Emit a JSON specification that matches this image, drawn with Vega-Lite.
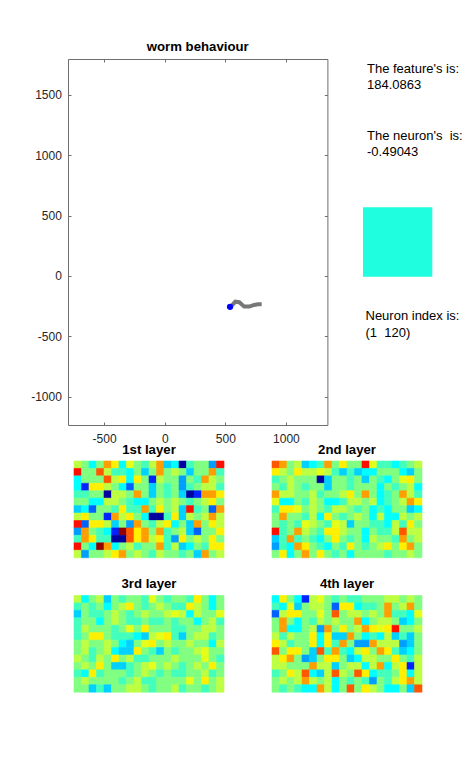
{
  "$schema": "https://vega.github.io/schema/vega-lite/v6.json",
  "background": "white",
  "padding": {"left": 30, "top": 40, "right": 0, "bottom": 0},
  "datasets": {
    "worm": [
      {"i": 1, "x": 557, "y": -242}, {"i": 2, "x": 582, "y": -213}, {"i": 3, "x": 615, "y": -217},
      {"i": 4, "x": 656, "y": -254}, {"i": 5, "x": 697, "y": -254}, {"i": 6, "x": 738, "y": -240},
      {"i": 7, "x": 767, "y": -234}, {"i": 8, "x": 800, "y": -235}
    ],
    "head": [{"x": 539, "y": -256}],
    "neuron": [{"r": 1, "c": 1, "v": 0.405}],
    "l1": [
      {"r":1,"c":1,"v":0.56},{"r":1,"c":2,"v":0.5},{"r":1,"c":3,"v":0.375},{"r":1,"c":4,"v":0.5},{"r":1,"c":5,"v":0.72},{"r":1,"c":6,"v":0.64},{"r":1,"c":7,"v":0.375},{"r":1,"c":8,"v":0.6},{"r":1,"c":9,"v":0.5},{"r":1,"c":10,"v":0.44},{"r":1,"c":11,"v":0.56},{"r":1,"c":12,"v":0.72},{"r":1,"c":13,"v":0.33},{"r":1,"c":14,"v":0.375},{"r":1,"c":15,"v":0.03},{"r":1,"c":16,"v":0.44},{"r":1,"c":17,"v":0.5},{"r":1,"c":18,"v":0.5},{"r":1,"c":19,"v":0.28},{"r":1,"c":20,"v":0.86},
      {"r":2,"c":1,"v":0.86},{"r":2,"c":2,"v":0.5},{"r":2,"c":3,"v":0.5},{"r":2,"c":4,"v":0.79},{"r":2,"c":5,"v":0.56},{"r":2,"c":6,"v":0.44},{"r":2,"c":7,"v":0.44},{"r":2,"c":8,"v":0.375},{"r":2,"c":9,"v":0.5},{"r":2,"c":10,"v":0.33},{"r":2,"c":11,"v":0.5},{"r":2,"c":12,"v":0.72},{"r":2,"c":13,"v":0.5},{"r":2,"c":14,"v":0.56},{"r":2,"c":15,"v":0.5},{"r":2,"c":16,"v":0.33},{"r":2,"c":17,"v":0.5},{"r":2,"c":18,"v":0.5},{"r":2,"c":19,"v":0.72},{"r":2,"c":20,"v":0.44},
      {"r":3,"c":1,"v":0.375},{"r":3,"c":2,"v":0.5},{"r":3,"c":3,"v":0.5},{"r":3,"c":4,"v":0.5},{"r":3,"c":5,"v":0.79},{"r":3,"c":6,"v":0.56},{"r":3,"c":7,"v":0.64},{"r":3,"c":8,"v":0.375},{"r":3,"c":9,"v":0.64},{"r":3,"c":10,"v":0.5},{"r":3,"c":11,"v":0.16},{"r":3,"c":12,"v":0.56},{"r":3,"c":13,"v":0.5},{"r":3,"c":14,"v":0.5},{"r":3,"c":15,"v":0.28},{"r":3,"c":16,"v":0.5},{"r":3,"c":17,"v":0.44},{"r":3,"c":18,"v":0.72},{"r":3,"c":19,"v":0.56},{"r":3,"c":20,"v":0.5},
      {"r":4,"c":1,"v":0.375},{"r":4,"c":2,"v":0.16},{"r":4,"c":3,"v":0.64},{"r":4,"c":4,"v":0.64},{"r":4,"c":5,"v":0.56},{"r":4,"c":6,"v":0.5},{"r":4,"c":7,"v":0.375},{"r":4,"c":8,"v":0.22},{"r":4,"c":9,"v":0.5},{"r":4,"c":10,"v":0.5},{"r":4,"c":11,"v":0.33},{"r":4,"c":12,"v":0.5},{"r":4,"c":13,"v":0.44},{"r":4,"c":14,"v":0.5},{"r":4,"c":15,"v":0.28},{"r":4,"c":16,"v":0.44},{"r":4,"c":17,"v":0.5},{"r":4,"c":18,"v":0.56},{"r":4,"c":19,"v":0.56},{"r":4,"c":20,"v":0.44},
      {"r":5,"c":1,"v":0.44},{"r":5,"c":2,"v":0.44},{"r":5,"c":3,"v":0.5},{"r":5,"c":4,"v":0.5},{"r":5,"c":5,"v":0.03},{"r":5,"c":6,"v":0.56},{"r":5,"c":7,"v":0.56},{"r":5,"c":8,"v":0.5},{"r":5,"c":9,"v":0.72},{"r":5,"c":10,"v":0.5},{"r":5,"c":11,"v":0.33},{"r":5,"c":12,"v":0.5},{"r":5,"c":13,"v":0.44},{"r":5,"c":14,"v":0.5},{"r":5,"c":15,"v":0.33},{"r":5,"c":16,"v":0.03},{"r":5,"c":17,"v":0.16},{"r":5,"c":18,"v":0.72},{"r":5,"c":19,"v":0.72},{"r":5,"c":20,"v":0.64},
      {"r":6,"c":1,"v":0.5},{"r":6,"c":2,"v":0.5},{"r":6,"c":3,"v":0.375},{"r":6,"c":4,"v":0.375},{"r":6,"c":5,"v":0.56},{"r":6,"c":6,"v":0.56},{"r":6,"c":7,"v":0.5},{"r":6,"c":8,"v":0.44},{"r":6,"c":9,"v":0.375},{"r":6,"c":10,"v":0.375},{"r":6,"c":11,"v":0.5},{"r":6,"c":12,"v":0.56},{"r":6,"c":13,"v":0.5},{"r":6,"c":14,"v":0.56},{"r":6,"c":15,"v":0.5},{"r":6,"c":16,"v":0.44},{"r":6,"c":17,"v":0.5},{"r":6,"c":18,"v":0.56},{"r":6,"c":19,"v":0.64},{"r":6,"c":20,"v":0.5},
      {"r":7,"c":1,"v":0.33},{"r":7,"c":2,"v":0.375},{"r":7,"c":3,"v":0.22},{"r":7,"c":4,"v":0.5},{"r":7,"c":5,"v":0.5},{"r":7,"c":6,"v":0.44},{"r":7,"c":7,"v":0.64},{"r":7,"c":8,"v":0.44},{"r":7,"c":9,"v":0.44},{"r":7,"c":10,"v":0.72},{"r":7,"c":11,"v":0.44},{"r":7,"c":12,"v":0.64},{"r":7,"c":13,"v":0.5},{"r":7,"c":14,"v":0.56},{"r":7,"c":15,"v":0.33},{"r":7,"c":16,"v":0.86},{"r":7,"c":17,"v":0.44},{"r":7,"c":18,"v":0.5},{"r":7,"c":19,"v":0.22},{"r":7,"c":20,"v":0.72},
      {"r":8,"c":1,"v":0.56},{"r":8,"c":2,"v":0.64},{"r":8,"c":3,"v":0.5},{"r":8,"c":4,"v":0.5},{"r":8,"c":5,"v":0.16},{"r":8,"c":6,"v":0.72},{"r":8,"c":7,"v":0.56},{"r":8,"c":8,"v":0.64},{"r":8,"c":9,"v":0.5},{"r":8,"c":10,"v":0.375},{"r":8,"c":11,"v":0.03},{"r":8,"c":12,"v":0.03},{"r":8,"c":13,"v":0.44},{"r":8,"c":14,"v":0.64},{"r":8,"c":15,"v":0.33},{"r":8,"c":16,"v":0.56},{"r":8,"c":17,"v":0.5},{"r":8,"c":18,"v":0.56},{"r":8,"c":19,"v":0.72},{"r":8,"c":20,"v":0.56},
      {"r":9,"c":1,"v":0.86},{"r":9,"c":2,"v":0.22},{"r":9,"c":3,"v":0.64},{"r":9,"c":4,"v":0.64},{"r":9,"c":5,"v":0.56},{"r":9,"c":6,"v":0.33},{"r":9,"c":7,"v":0.5},{"r":9,"c":8,"v":0.28},{"r":9,"c":9,"v":0.72},{"r":9,"c":10,"v":0.5},{"r":9,"c":11,"v":0.44},{"r":9,"c":12,"v":0.56},{"r":9,"c":13,"v":0.64},{"r":9,"c":14,"v":0.375},{"r":9,"c":15,"v":0.5},{"r":9,"c":16,"v":0.33},{"r":9,"c":17,"v":0.72},{"r":9,"c":18,"v":0.5},{"r":9,"c":19,"v":0.64},{"r":9,"c":20,"v":0.56},
      {"r":10,"c":1,"v":0.28},{"r":10,"c":2,"v":0.72},{"r":10,"c":3,"v":0.5},{"r":10,"c":4,"v":0.44},{"r":10,"c":5,"v":0.375},{"r":10,"c":6,"v":0.16},{"r":10,"c":7,"v":0.98},{"r":10,"c":8,"v":0.79},{"r":10,"c":9,"v":0.64},{"r":10,"c":10,"v":0.72},{"r":10,"c":11,"v":0.5},{"r":10,"c":12,"v":0.72},{"r":10,"c":13,"v":0.44},{"r":10,"c":14,"v":0.5},{"r":10,"c":15,"v":0.56},{"r":10,"c":16,"v":0.33},{"r":10,"c":17,"v":0.22},{"r":10,"c":18,"v":0.5},{"r":10,"c":19,"v":0.5},{"r":10,"c":20,"v":0.64},
      {"r":11,"c":1,"v":0.44},{"r":11,"c":2,"v":0.72},{"r":11,"c":3,"v":0.64},{"r":11,"c":4,"v":0.44},{"r":11,"c":5,"v":0.44},{"r":11,"c":6,"v":0.03},{"r":11,"c":7,"v":0.03},{"r":11,"c":8,"v":0.79},{"r":11,"c":9,"v":0.64},{"r":11,"c":10,"v":0.72},{"r":11,"c":11,"v":0.56},{"r":11,"c":12,"v":0.64},{"r":11,"c":13,"v":0.44},{"r":11,"c":14,"v":0.28},{"r":11,"c":15,"v":0.64},{"r":11,"c":16,"v":0.5},{"r":11,"c":17,"v":0.56},{"r":11,"c":18,"v":0.5},{"r":11,"c":19,"v":0.64},{"r":11,"c":20,"v":0.5},
      {"r":12,"c":1,"v":0.86},{"r":12,"c":2,"v":0.5},{"r":12,"c":3,"v":0.375},{"r":12,"c":4,"v":0.98},{"r":12,"c":5,"v":0.72},{"r":12,"c":6,"v":0.375},{"r":12,"c":7,"v":0.5},{"r":12,"c":8,"v":0.56},{"r":12,"c":9,"v":0.44},{"r":12,"c":10,"v":0.5},{"r":12,"c":11,"v":0.5},{"r":12,"c":12,"v":0.72},{"r":12,"c":13,"v":0.44},{"r":12,"c":14,"v":0.56},{"r":12,"c":15,"v":0.33},{"r":12,"c":16,"v":0.375},{"r":12,"c":17,"v":0.5},{"r":12,"c":18,"v":0.44},{"r":12,"c":19,"v":0.64},{"r":12,"c":20,"v":0.64},
      {"r":13,"c":1,"v":0.56},{"r":13,"c":2,"v":0.28},{"r":13,"c":3,"v":0.5},{"r":13,"c":4,"v":0.5},{"r":13,"c":5,"v":0.56},{"r":13,"c":6,"v":0.64},{"r":13,"c":7,"v":0.72},{"r":13,"c":8,"v":0.5},{"r":13,"c":9,"v":0.56},{"r":13,"c":10,"v":0.5},{"r":13,"c":11,"v":0.44},{"r":13,"c":12,"v":0.56},{"r":13,"c":13,"v":0.5},{"r":13,"c":14,"v":0.5},{"r":13,"c":15,"v":0.44},{"r":13,"c":16,"v":0.5},{"r":13,"c":17,"v":0.33},{"r":13,"c":18,"v":0.72},{"r":13,"c":19,"v":0.5},{"r":13,"c":20,"v":0.56}
    ],
    "l2": [
      {"r":1,"c":1,"v":0.79},{"r":1,"c":2,"v":0.72},{"r":1,"c":3,"v":0.5},{"r":1,"c":4,"v":0.56},{"r":1,"c":5,"v":0.33},{"r":1,"c":6,"v":0.375},{"r":1,"c":7,"v":0.44},{"r":1,"c":8,"v":0.72},{"r":1,"c":9,"v":0.5},{"r":1,"c":10,"v":0.64},{"r":1,"c":11,"v":0.5},{"r":1,"c":12,"v":0.5},{"r":1,"c":13,"v":0.86},{"r":1,"c":14,"v":0.6},{"r":1,"c":15,"v":0.44},{"r":1,"c":16,"v":0.44},{"r":1,"c":17,"v":0.375},{"r":1,"c":18,"v":0.44},{"r":1,"c":19,"v":0.5},{"r":1,"c":20,"v":0.56},
      {"r":2,"c":1,"v":0.64},{"r":2,"c":2,"v":0.56},{"r":2,"c":3,"v":0.5},{"r":2,"c":4,"v":0.64},{"r":2,"c":5,"v":0.56},{"r":2,"c":6,"v":0.56},{"r":2,"c":7,"v":0.6},{"r":2,"c":8,"v":0.56},{"r":2,"c":9,"v":0.44},{"r":2,"c":10,"v":0.33},{"r":2,"c":11,"v":0.44},{"r":2,"c":12,"v":0.33},{"r":2,"c":13,"v":0.375},{"r":2,"c":14,"v":0.375},{"r":2,"c":15,"v":0.5},{"r":2,"c":16,"v":0.5},{"r":2,"c":17,"v":0.5},{"r":2,"c":18,"v":0.375},{"r":2,"c":19,"v":0.33},{"r":2,"c":20,"v":0.5},
      {"r":3,"c":1,"v":0.44},{"r":3,"c":2,"v":0.5},{"r":3,"c":3,"v":0.56},{"r":3,"c":4,"v":0.5},{"r":3,"c":5,"v":0.5},{"r":3,"c":6,"v":0.5},{"r":3,"c":7,"v":0.03},{"r":3,"c":8,"v":0.33},{"r":3,"c":9,"v":0.5},{"r":3,"c":10,"v":0.5},{"r":3,"c":11,"v":0.44},{"r":3,"c":12,"v":0.5},{"r":3,"c":13,"v":0.33},{"r":3,"c":14,"v":0.5},{"r":3,"c":15,"v":0.44},{"r":3,"c":16,"v":0.375},{"r":3,"c":17,"v":0.5},{"r":3,"c":18,"v":0.6},{"r":3,"c":19,"v":0.64},{"r":3,"c":20,"v":0.5},
      {"r":4,"c":1,"v":0.5},{"r":4,"c":2,"v":0.44},{"r":4,"c":3,"v":0.56},{"r":4,"c":4,"v":0.5},{"r":4,"c":5,"v":0.44},{"r":4,"c":6,"v":0.5},{"r":4,"c":7,"v":0.5},{"r":4,"c":8,"v":0.33},{"r":4,"c":9,"v":0.5},{"r":4,"c":10,"v":0.5},{"r":4,"c":11,"v":0.44},{"r":4,"c":12,"v":0.5},{"r":4,"c":13,"v":0.5},{"r":4,"c":14,"v":0.5},{"r":4,"c":15,"v":0.375},{"r":4,"c":16,"v":0.5},{"r":4,"c":17,"v":0.44},{"r":4,"c":18,"v":0.5},{"r":4,"c":19,"v":0.56},{"r":4,"c":20,"v":0.375},
      {"r":5,"c":1,"v":0.72},{"r":5,"c":2,"v":0.56},{"r":5,"c":3,"v":0.56},{"r":5,"c":4,"v":0.5},{"r":5,"c":5,"v":0.5},{"r":5,"c":6,"v":0.56},{"r":5,"c":7,"v":0.44},{"r":5,"c":8,"v":0.5},{"r":5,"c":9,"v":0.5},{"r":5,"c":10,"v":0.56},{"r":5,"c":11,"v":0.64},{"r":5,"c":12,"v":0.5},{"r":5,"c":13,"v":0.72},{"r":5,"c":14,"v":0.5},{"r":5,"c":15,"v":0.375},{"r":5,"c":16,"v":0.44},{"r":5,"c":17,"v":0.5},{"r":5,"c":18,"v":0.72},{"r":5,"c":19,"v":0.56},{"r":5,"c":20,"v":0.44},
      {"r":6,"c":1,"v":0.6},{"r":6,"c":2,"v":0.375},{"r":6,"c":3,"v":0.375},{"r":6,"c":4,"v":0.5},{"r":6,"c":5,"v":0.44},{"r":6,"c":6,"v":0.56},{"r":6,"c":7,"v":0.5},{"r":6,"c":8,"v":0.375},{"r":6,"c":9,"v":0.375},{"r":6,"c":10,"v":0.44},{"r":6,"c":11,"v":0.56},{"r":6,"c":12,"v":0.56},{"r":6,"c":13,"v":0.5},{"r":6,"c":14,"v":0.56},{"r":6,"c":15,"v":0.375},{"r":6,"c":16,"v":0.44},{"r":6,"c":17,"v":0.5},{"r":6,"c":18,"v":0.56},{"r":6,"c":19,"v":0.72},{"r":6,"c":20,"v":0.64},
      {"r":7,"c":1,"v":0.44},{"r":7,"c":2,"v":0.64},{"r":7,"c":3,"v":0.64},{"r":7,"c":4,"v":0.6},{"r":7,"c":5,"v":0.5},{"r":7,"c":6,"v":0.56},{"r":7,"c":7,"v":0.5},{"r":7,"c":8,"v":0.44},{"r":7,"c":9,"v":0.56},{"r":7,"c":10,"v":0.56},{"r":7,"c":11,"v":0.5},{"r":7,"c":12,"v":0.44},{"r":7,"c":13,"v":0.5},{"r":7,"c":14,"v":0.375},{"r":7,"c":15,"v":0.44},{"r":7,"c":16,"v":0.375},{"r":7,"c":17,"v":0.5},{"r":7,"c":18,"v":0.5},{"r":7,"c":19,"v":0.33},{"r":7,"c":20,"v":0.375},
      {"r":8,"c":1,"v":0.5},{"r":8,"c":2,"v":0.72},{"r":8,"c":3,"v":0.5},{"r":8,"c":4,"v":0.5},{"r":8,"c":5,"v":0.44},{"r":8,"c":6,"v":0.56},{"r":8,"c":7,"v":0.375},{"r":8,"c":8,"v":0.64},{"r":8,"c":9,"v":0.5},{"r":8,"c":10,"v":0.44},{"r":8,"c":11,"v":0.5},{"r":8,"c":12,"v":0.56},{"r":8,"c":13,"v":0.5},{"r":8,"c":14,"v":0.375},{"r":8,"c":15,"v":0.56},{"r":8,"c":16,"v":0.375},{"r":8,"c":17,"v":0.375},{"r":8,"c":18,"v":0.56},{"r":8,"c":19,"v":0.5},{"r":8,"c":20,"v":0.56},
      {"r":9,"c":1,"v":0.5},{"r":9,"c":2,"v":0.44},{"r":9,"c":3,"v":0.5},{"r":9,"c":4,"v":0.44},{"r":9,"c":5,"v":0.6},{"r":9,"c":6,"v":0.56},{"r":9,"c":7,"v":0.5},{"r":9,"c":8,"v":0.44},{"r":9,"c":9,"v":0.6},{"r":9,"c":10,"v":0.56},{"r":9,"c":11,"v":0.33},{"r":9,"c":12,"v":0.5},{"r":9,"c":13,"v":0.5},{"r":9,"c":14,"v":0.44},{"r":9,"c":15,"v":0.44},{"r":9,"c":16,"v":0.375},{"r":9,"c":17,"v":0.56},{"r":9,"c":18,"v":0.44},{"r":9,"c":19,"v":0.64},{"r":9,"c":20,"v":0.5},
      {"r":10,"c":1,"v":0.86},{"r":10,"c":2,"v":0.44},{"r":10,"c":3,"v":0.5},{"r":10,"c":4,"v":0.72},{"r":10,"c":5,"v":0.56},{"r":10,"c":6,"v":0.5},{"r":10,"c":7,"v":0.44},{"r":10,"c":8,"v":0.64},{"r":10,"c":9,"v":0.64},{"r":10,"c":10,"v":0.56},{"r":10,"c":11,"v":0.5},{"r":10,"c":12,"v":0.5},{"r":10,"c":13,"v":0.375},{"r":10,"c":14,"v":0.5},{"r":10,"c":15,"v":0.44},{"r":10,"c":16,"v":0.44},{"r":10,"c":17,"v":0.56},{"r":10,"c":18,"v":0.79},{"r":10,"c":19,"v":0.56},{"r":10,"c":20,"v":0.56},
      {"r":11,"c":1,"v":0.33},{"r":11,"c":2,"v":0.44},{"r":11,"c":3,"v":0.72},{"r":11,"c":4,"v":0.44},{"r":11,"c":5,"v":0.5},{"r":11,"c":6,"v":0.44},{"r":11,"c":7,"v":0.375},{"r":11,"c":8,"v":0.5},{"r":11,"c":9,"v":0.64},{"r":11,"c":10,"v":0.5},{"r":11,"c":11,"v":0.44},{"r":11,"c":12,"v":0.5},{"r":11,"c":13,"v":0.375},{"r":11,"c":14,"v":0.56},{"r":11,"c":15,"v":0.5},{"r":11,"c":16,"v":0.5},{"r":11,"c":17,"v":0.44},{"r":11,"c":18,"v":0.72},{"r":11,"c":19,"v":0.5},{"r":11,"c":20,"v":0.56},
      {"r":12,"c":1,"v":0.28},{"r":12,"c":2,"v":0.44},{"r":12,"c":3,"v":0.375},{"r":12,"c":4,"v":0.72},{"r":12,"c":5,"v":0.64},{"r":12,"c":6,"v":0.5},{"r":12,"c":7,"v":0.44},{"r":12,"c":8,"v":0.375},{"r":12,"c":9,"v":0.5},{"r":12,"c":10,"v":0.44},{"r":12,"c":11,"v":0.64},{"r":12,"c":12,"v":0.5},{"r":12,"c":13,"v":0.44},{"r":12,"c":14,"v":0.5},{"r":12,"c":15,"v":0.56},{"r":12,"c":16,"v":0.64},{"r":12,"c":17,"v":0.5},{"r":12,"c":18,"v":0.64},{"r":12,"c":19,"v":0.72},{"r":12,"c":20,"v":0.5},
      {"r":13,"c":1,"v":0.5},{"r":13,"c":2,"v":0.64},{"r":13,"c":3,"v":0.375},{"r":13,"c":4,"v":0.5},{"r":13,"c":5,"v":0.72},{"r":13,"c":6,"v":0.5},{"r":13,"c":7,"v":0.64},{"r":13,"c":8,"v":0.5},{"r":13,"c":9,"v":0.44},{"r":13,"c":10,"v":0.5},{"r":13,"c":11,"v":0.375},{"r":13,"c":12,"v":0.5},{"r":13,"c":13,"v":0.5},{"r":13,"c":14,"v":0.5},{"r":13,"c":15,"v":0.5},{"r":13,"c":16,"v":0.44},{"r":13,"c":17,"v":0.5},{"r":13,"c":18,"v":0.5},{"r":13,"c":19,"v":0.56},{"r":13,"c":20,"v":0.5}
    ],
    "l3": [
      {"r":1,"c":1,"v":0.56},{"r":1,"c":2,"v":0.375},{"r":1,"c":3,"v":0.5},{"r":1,"c":4,"v":0.56},{"r":1,"c":5,"v":0.33},{"r":1,"c":6,"v":0.5},{"r":1,"c":7,"v":0.44},{"r":1,"c":8,"v":0.5},{"r":1,"c":9,"v":0.5},{"r":1,"c":10,"v":0.44},{"r":1,"c":11,"v":0.6},{"r":1,"c":12,"v":0.5},{"r":1,"c":13,"v":0.44},{"r":1,"c":14,"v":0.5},{"r":1,"c":15,"v":0.5},{"r":1,"c":16,"v":0.44},{"r":1,"c":17,"v":0.64},{"r":1,"c":18,"v":0.5},{"r":1,"c":19,"v":0.375},{"r":1,"c":20,"v":0.5},
      {"r":2,"c":1,"v":0.44},{"r":2,"c":2,"v":0.5},{"r":2,"c":3,"v":0.44},{"r":2,"c":4,"v":0.5},{"r":2,"c":5,"v":0.375},{"r":2,"c":6,"v":0.5},{"r":2,"c":7,"v":0.56},{"r":2,"c":8,"v":0.64},{"r":2,"c":9,"v":0.5},{"r":2,"c":10,"v":0.44},{"r":2,"c":11,"v":0.5},{"r":2,"c":12,"v":0.56},{"r":2,"c":13,"v":0.5},{"r":2,"c":14,"v":0.44},{"r":2,"c":15,"v":0.44},{"r":2,"c":16,"v":0.64},{"r":2,"c":17,"v":0.56},{"r":2,"c":18,"v":0.5},{"r":2,"c":19,"v":0.375},{"r":2,"c":20,"v":0.5},
      {"r":3,"c":1,"v":0.33},{"r":3,"c":2,"v":0.5},{"r":3,"c":3,"v":0.44},{"r":3,"c":4,"v":0.44},{"r":3,"c":5,"v":0.5},{"r":3,"c":6,"v":0.56},{"r":3,"c":7,"v":0.5},{"r":3,"c":8,"v":0.44},{"r":3,"c":9,"v":0.5},{"r":3,"c":10,"v":0.56},{"r":3,"c":11,"v":0.5},{"r":3,"c":12,"v":0.5},{"r":3,"c":13,"v":0.56},{"r":3,"c":14,"v":0.6},{"r":3,"c":15,"v":0.56},{"r":3,"c":16,"v":0.375},{"r":3,"c":17,"v":0.56},{"r":3,"c":18,"v":0.5},{"r":3,"c":19,"v":0.5},{"r":3,"c":20,"v":0.6},
      {"r":4,"c":1,"v":0.44},{"r":4,"c":2,"v":0.5},{"r":4,"c":3,"v":0.5},{"r":4,"c":4,"v":0.375},{"r":4,"c":5,"v":0.5},{"r":4,"c":6,"v":0.56},{"r":4,"c":7,"v":0.5},{"r":4,"c":8,"v":0.44},{"r":4,"c":9,"v":0.44},{"r":4,"c":10,"v":0.5},{"r":4,"c":11,"v":0.44},{"r":4,"c":12,"v":0.44},{"r":4,"c":13,"v":0.5},{"r":4,"c":14,"v":0.44},{"r":4,"c":15,"v":0.5},{"r":4,"c":16,"v":0.5},{"r":4,"c":17,"v":0.375},{"r":4,"c":18,"v":0.5},{"r":4,"c":19,"v":0.56},{"r":4,"c":20,"v":0.44},
      {"r":5,"c":1,"v":0.44},{"r":5,"c":2,"v":0.56},{"r":5,"c":3,"v":0.5},{"r":5,"c":4,"v":0.5},{"r":5,"c":5,"v":0.5},{"r":5,"c":6,"v":0.44},{"r":5,"c":7,"v":0.5},{"r":5,"c":8,"v":0.6},{"r":5,"c":9,"v":0.5},{"r":5,"c":10,"v":0.64},{"r":5,"c":11,"v":0.5},{"r":5,"c":12,"v":0.5},{"r":5,"c":13,"v":0.5},{"r":5,"c":14,"v":0.44},{"r":5,"c":15,"v":0.44},{"r":5,"c":16,"v":0.5},{"r":5,"c":17,"v":0.5},{"r":5,"c":18,"v":0.56},{"r":5,"c":19,"v":0.56},{"r":5,"c":20,"v":0.5},
      {"r":6,"c":1,"v":0.44},{"r":6,"c":2,"v":0.5},{"r":6,"c":3,"v":0.64},{"r":6,"c":4,"v":0.64},{"r":6,"c":5,"v":0.5},{"r":6,"c":6,"v":0.44},{"r":6,"c":7,"v":0.44},{"r":6,"c":8,"v":0.44},{"r":6,"c":9,"v":0.375},{"r":6,"c":10,"v":0.33},{"r":6,"c":11,"v":0.56},{"r":6,"c":12,"v":0.6},{"r":6,"c":13,"v":0.64},{"r":6,"c":14,"v":0.44},{"r":6,"c":15,"v":0.33},{"r":6,"c":16,"v":0.5},{"r":6,"c":17,"v":0.56},{"r":6,"c":18,"v":0.56},{"r":6,"c":19,"v":0.44},{"r":6,"c":20,"v":0.5},
      {"r":7,"c":1,"v":0.5},{"r":7,"c":2,"v":0.56},{"r":7,"c":3,"v":0.5},{"r":7,"c":4,"v":0.5},{"r":7,"c":5,"v":0.56},{"r":7,"c":6,"v":0.5},{"r":7,"c":7,"v":0.375},{"r":7,"c":8,"v":0.33},{"r":7,"c":9,"v":0.5},{"r":7,"c":10,"v":0.6},{"r":7,"c":11,"v":0.64},{"r":7,"c":12,"v":0.5},{"r":7,"c":13,"v":0.56},{"r":7,"c":14,"v":0.5},{"r":7,"c":15,"v":0.5},{"r":7,"c":16,"v":0.56},{"r":7,"c":17,"v":0.5},{"r":7,"c":18,"v":0.5},{"r":7,"c":19,"v":0.375},{"r":7,"c":20,"v":0.56},
      {"r":8,"c":1,"v":0.5},{"r":8,"c":2,"v":0.56},{"r":8,"c":3,"v":0.44},{"r":8,"c":4,"v":0.5},{"r":8,"c":5,"v":0.56},{"r":8,"c":6,"v":0.375},{"r":8,"c":7,"v":0.33},{"r":8,"c":8,"v":0.33},{"r":8,"c":9,"v":0.64},{"r":8,"c":10,"v":0.5},{"r":8,"c":11,"v":0.44},{"r":8,"c":12,"v":0.33},{"r":8,"c":13,"v":0.5},{"r":8,"c":14,"v":0.44},{"r":8,"c":15,"v":0.5},{"r":8,"c":16,"v":0.5},{"r":8,"c":17,"v":0.56},{"r":8,"c":18,"v":0.6},{"r":8,"c":19,"v":0.5},{"r":8,"c":20,"v":0.5},
      {"r":9,"c":1,"v":0.56},{"r":9,"c":2,"v":0.5},{"r":9,"c":3,"v":0.44},{"r":9,"c":4,"v":0.56},{"r":9,"c":5,"v":0.5},{"r":9,"c":6,"v":0.64},{"r":9,"c":7,"v":0.5},{"r":9,"c":8,"v":0.56},{"r":9,"c":9,"v":0.44},{"r":9,"c":10,"v":0.44},{"r":9,"c":11,"v":0.5},{"r":9,"c":12,"v":0.5},{"r":9,"c":13,"v":0.5},{"r":9,"c":14,"v":0.56},{"r":9,"c":15,"v":0.5},{"r":9,"c":16,"v":0.5},{"r":9,"c":17,"v":0.5},{"r":9,"c":18,"v":0.6},{"r":9,"c":19,"v":0.5},{"r":9,"c":20,"v":0.44},
      {"r":10,"c":1,"v":0.5},{"r":10,"c":2,"v":0.56},{"r":10,"c":3,"v":0.5},{"r":10,"c":4,"v":0.64},{"r":10,"c":5,"v":0.5},{"r":10,"c":6,"v":0.33},{"r":10,"c":7,"v":0.33},{"r":10,"c":8,"v":0.44},{"r":10,"c":9,"v":0.5},{"r":10,"c":10,"v":0.56},{"r":10,"c":11,"v":0.6},{"r":10,"c":12,"v":0.5},{"r":10,"c":13,"v":0.56},{"r":10,"c":14,"v":0.5},{"r":10,"c":15,"v":0.44},{"r":10,"c":16,"v":0.5},{"r":10,"c":17,"v":0.56},{"r":10,"c":18,"v":0.5},{"r":10,"c":19,"v":0.64},{"r":10,"c":20,"v":0.5},
      {"r":11,"c":1,"v":0.44},{"r":11,"c":2,"v":0.375},{"r":11,"c":3,"v":0.64},{"r":11,"c":4,"v":0.44},{"r":11,"c":5,"v":0.5},{"r":11,"c":6,"v":0.5},{"r":11,"c":7,"v":0.5},{"r":11,"c":8,"v":0.44},{"r":11,"c":9,"v":0.5},{"r":11,"c":10,"v":0.56},{"r":11,"c":11,"v":0.5},{"r":11,"c":12,"v":0.44},{"r":11,"c":13,"v":0.5},{"r":11,"c":14,"v":0.44},{"r":11,"c":15,"v":0.44},{"r":11,"c":16,"v":0.5},{"r":11,"c":17,"v":0.5},{"r":11,"c":18,"v":0.56},{"r":11,"c":19,"v":0.44},{"r":11,"c":20,"v":0.5},
      {"r":12,"c":1,"v":0.5},{"r":12,"c":2,"v":0.56},{"r":12,"c":3,"v":0.5},{"r":12,"c":4,"v":0.5},{"r":12,"c":5,"v":0.5},{"r":12,"c":6,"v":0.5},{"r":12,"c":7,"v":0.44},{"r":12,"c":8,"v":0.5},{"r":12,"c":9,"v":0.56},{"r":12,"c":10,"v":0.44},{"r":12,"c":11,"v":0.44},{"r":12,"c":12,"v":0.5},{"r":12,"c":13,"v":0.5},{"r":12,"c":14,"v":0.5},{"r":12,"c":15,"v":0.5},{"r":12,"c":16,"v":0.6},{"r":12,"c":17,"v":0.5},{"r":12,"c":18,"v":0.64},{"r":12,"c":19,"v":0.5},{"r":12,"c":20,"v":0.56},
      {"r":13,"c":1,"v":0.5},{"r":13,"c":2,"v":0.5},{"r":13,"c":3,"v":0.33},{"r":13,"c":4,"v":0.44},{"r":13,"c":5,"v":0.33},{"r":13,"c":6,"v":0.5},{"r":13,"c":7,"v":0.5},{"r":13,"c":8,"v":0.56},{"r":13,"c":9,"v":0.56},{"r":13,"c":10,"v":0.5},{"r":13,"c":11,"v":0.44},{"r":13,"c":12,"v":0.5},{"r":13,"c":13,"v":0.5},{"r":13,"c":14,"v":0.56},{"r":13,"c":15,"v":0.44},{"r":13,"c":16,"v":0.5},{"r":13,"c":17,"v":0.5},{"r":13,"c":18,"v":0.44},{"r":13,"c":19,"v":0.5},{"r":13,"c":20,"v":0.56}
    ],
    "l4": [
      {"r":1,"c":1,"v":0.375},{"r":1,"c":2,"v":0.64},{"r":1,"c":3,"v":0.5},{"r":1,"c":4,"v":0.375},{"r":1,"c":5,"v":0.16},{"r":1,"c":6,"v":0.56},{"r":1,"c":7,"v":0.6},{"r":1,"c":8,"v":0.5},{"r":1,"c":9,"v":0.44},{"r":1,"c":10,"v":0.5},{"r":1,"c":11,"v":0.44},{"r":1,"c":12,"v":0.44},{"r":1,"c":13,"v":0.5},{"r":1,"c":14,"v":0.5},{"r":1,"c":15,"v":0.5},{"r":1,"c":16,"v":0.56},{"r":1,"c":17,"v":0.56},{"r":1,"c":18,"v":0.5},{"r":1,"c":19,"v":0.56},{"r":1,"c":20,"v":0.5},
      {"r":2,"c":1,"v":0.44},{"r":2,"c":2,"v":0.375},{"r":2,"c":3,"v":0.6},{"r":2,"c":4,"v":0.33},{"r":2,"c":5,"v":0.5},{"r":2,"c":6,"v":0.56},{"r":2,"c":7,"v":0.56},{"r":2,"c":8,"v":0.5},{"r":2,"c":9,"v":0.22},{"r":2,"c":10,"v":0.64},{"r":2,"c":11,"v":0.64},{"r":2,"c":12,"v":0.375},{"r":2,"c":13,"v":0.44},{"r":2,"c":14,"v":0.44},{"r":2,"c":15,"v":0.5},{"r":2,"c":16,"v":0.72},{"r":2,"c":17,"v":0.5},{"r":2,"c":18,"v":0.56},{"r":2,"c":19,"v":0.72},{"r":2,"c":20,"v":0.5},
      {"r":3,"c":1,"v":0.22},{"r":3,"c":2,"v":0.56},{"r":3,"c":3,"v":0.64},{"r":3,"c":4,"v":0.64},{"r":3,"c":5,"v":0.5},{"r":3,"c":6,"v":0.5},{"r":3,"c":7,"v":0.6},{"r":3,"c":8,"v":0.5},{"r":3,"c":9,"v":0.79},{"r":3,"c":10,"v":0.5},{"r":3,"c":11,"v":0.56},{"r":3,"c":12,"v":0.56},{"r":3,"c":13,"v":0.5},{"r":3,"c":14,"v":0.56},{"r":3,"c":15,"v":0.5},{"r":3,"c":16,"v":0.72},{"r":3,"c":17,"v":0.44},{"r":3,"c":18,"v":0.44},{"r":3,"c":19,"v":0.375},{"r":3,"c":20,"v":0.6},
      {"r":4,"c":1,"v":0.5},{"r":4,"c":2,"v":0.72},{"r":4,"c":3,"v":0.5},{"r":4,"c":4,"v":0.375},{"r":4,"c":5,"v":0.5},{"r":4,"c":6,"v":0.44},{"r":4,"c":7,"v":0.56},{"r":4,"c":8,"v":0.5},{"r":4,"c":9,"v":0.56},{"r":4,"c":10,"v":0.5},{"r":4,"c":11,"v":0.5},{"r":4,"c":12,"v":0.72},{"r":4,"c":13,"v":0.375},{"r":4,"c":14,"v":0.5},{"r":4,"c":15,"v":0.56},{"r":4,"c":16,"v":0.56},{"r":4,"c":17,"v":0.5},{"r":4,"c":18,"v":0.33},{"r":4,"c":19,"v":0.375},{"r":4,"c":20,"v":0.5},
      {"r":5,"c":1,"v":0.5},{"r":5,"c":2,"v":0.72},{"r":5,"c":3,"v":0.375},{"r":5,"c":4,"v":0.375},{"r":5,"c":5,"v":0.5},{"r":5,"c":6,"v":0.56},{"r":5,"c":7,"v":0.28},{"r":5,"c":8,"v":0.72},{"r":5,"c":9,"v":0.5},{"r":5,"c":10,"v":0.64},{"r":5,"c":11,"v":0.5},{"r":5,"c":12,"v":0.56},{"r":5,"c":13,"v":0.72},{"r":5,"c":14,"v":0.64},{"r":5,"c":15,"v":0.6},{"r":5,"c":16,"v":0.64},{"r":5,"c":17,"v":0.86},{"r":5,"c":18,"v":0.5},{"r":5,"c":19,"v":0.5},{"r":5,"c":20,"v":0.56},
      {"r":6,"c":1,"v":0.56},{"r":6,"c":2,"v":0.44},{"r":6,"c":3,"v":0.56},{"r":6,"c":4,"v":0.5},{"r":6,"c":5,"v":0.5},{"r":6,"c":6,"v":0.64},{"r":6,"c":7,"v":0.375},{"r":6,"c":8,"v":0.64},{"r":6,"c":9,"v":0.33},{"r":6,"c":10,"v":0.33},{"r":6,"c":11,"v":0.72},{"r":6,"c":12,"v":0.5},{"r":6,"c":13,"v":0.375},{"r":6,"c":14,"v":0.44},{"r":6,"c":15,"v":0.375},{"r":6,"c":16,"v":0.56},{"r":6,"c":17,"v":0.33},{"r":6,"c":18,"v":0.44},{"r":6,"c":19,"v":0.33},{"r":6,"c":20,"v":0.5},
      {"r":7,"c":1,"v":0.64},{"r":7,"c":2,"v":0.56},{"r":7,"c":3,"v":0.44},{"r":7,"c":4,"v":0.5},{"r":7,"c":5,"v":0.5},{"r":7,"c":6,"v":0.64},{"r":7,"c":7,"v":0.375},{"r":7,"c":8,"v":0.64},{"r":7,"c":9,"v":0.44},{"r":7,"c":10,"v":0.72},{"r":7,"c":11,"v":0.5},{"r":7,"c":12,"v":0.28},{"r":7,"c":13,"v":0.28},{"r":7,"c":14,"v":0.72},{"r":7,"c":15,"v":0.56},{"r":7,"c":16,"v":0.56},{"r":7,"c":17,"v":0.56},{"r":7,"c":18,"v":0.28},{"r":7,"c":19,"v":0.33},{"r":7,"c":20,"v":0.5},
      {"r":8,"c":1,"v":0.79},{"r":8,"c":2,"v":0.5},{"r":8,"c":3,"v":0.64},{"r":8,"c":4,"v":0.64},{"r":8,"c":5,"v":0.5},{"r":8,"c":6,"v":0.33},{"r":8,"c":7,"v":0.79},{"r":8,"c":8,"v":0.44},{"r":8,"c":9,"v":0.72},{"r":8,"c":10,"v":0.44},{"r":8,"c":11,"v":0.375},{"r":8,"c":12,"v":0.56},{"r":8,"c":13,"v":0.64},{"r":8,"c":14,"v":0.5},{"r":8,"c":15,"v":0.72},{"r":8,"c":16,"v":0.64},{"r":8,"c":17,"v":0.44},{"r":8,"c":18,"v":0.33},{"r":8,"c":19,"v":0.375},{"r":8,"c":20,"v":0.5},
      {"r":9,"c":1,"v":0.56},{"r":9,"c":2,"v":0.64},{"r":9,"c":3,"v":0.72},{"r":9,"c":4,"v":0.5},{"r":9,"c":5,"v":0.28},{"r":9,"c":6,"v":0.33},{"r":9,"c":7,"v":0.5},{"r":9,"c":8,"v":0.64},{"r":9,"c":9,"v":0.64},{"r":9,"c":10,"v":0.5},{"r":9,"c":11,"v":0.33},{"r":9,"c":12,"v":0.375},{"r":9,"c":13,"v":0.56},{"r":9,"c":14,"v":0.56},{"r":9,"c":15,"v":0.5},{"r":9,"c":16,"v":0.5},{"r":9,"c":17,"v":0.64},{"r":9,"c":18,"v":0.5},{"r":9,"c":19,"v":0.44},{"r":9,"c":20,"v":0.56},
      {"r":10,"c":1,"v":0.56},{"r":10,"c":2,"v":0.56},{"r":10,"c":3,"v":0.5},{"r":10,"c":4,"v":0.5},{"r":10,"c":5,"v":0.5},{"r":10,"c":6,"v":0.72},{"r":10,"c":7,"v":0.56},{"r":10,"c":8,"v":0.56},{"r":10,"c":9,"v":0.33},{"r":10,"c":10,"v":0.5},{"r":10,"c":11,"v":0.56},{"r":10,"c":12,"v":0.56},{"r":10,"c":13,"v":0.375},{"r":10,"c":14,"v":0.56},{"r":10,"c":15,"v":0.72},{"r":10,"c":16,"v":0.375},{"r":10,"c":17,"v":0.56},{"r":10,"c":18,"v":0.64},{"r":10,"c":19,"v":0.16},{"r":10,"c":20,"v":0.56},
      {"r":11,"c":1,"v":0.44},{"r":11,"c":2,"v":0.5},{"r":11,"c":3,"v":0.64},{"r":11,"c":4,"v":0.56},{"r":11,"c":5,"v":0.79},{"r":11,"c":6,"v":0.375},{"r":11,"c":7,"v":0.33},{"r":11,"c":8,"v":0.56},{"r":11,"c":9,"v":0.79},{"r":11,"c":10,"v":0.56},{"r":11,"c":11,"v":0.5},{"r":11,"c":12,"v":0.79},{"r":11,"c":13,"v":0.64},{"r":11,"c":14,"v":0.375},{"r":11,"c":15,"v":0.44},{"r":11,"c":16,"v":0.44},{"r":11,"c":17,"v":0.5},{"r":11,"c":18,"v":0.64},{"r":11,"c":19,"v":0.375},{"r":11,"c":20,"v":0.56},
      {"r":12,"c":1,"v":0.5},{"r":12,"c":2,"v":0.56},{"r":12,"c":3,"v":0.5},{"r":12,"c":4,"v":0.56},{"r":12,"c":5,"v":0.72},{"r":12,"c":6,"v":0.56},{"r":12,"c":7,"v":0.5},{"r":12,"c":8,"v":0.56},{"r":12,"c":9,"v":0.375},{"r":12,"c":10,"v":0.5},{"r":12,"c":11,"v":0.44},{"r":12,"c":12,"v":0.5},{"r":12,"c":13,"v":0.44},{"r":12,"c":14,"v":0.28},{"r":12,"c":15,"v":0.5},{"r":12,"c":16,"v":0.44},{"r":12,"c":17,"v":0.56},{"r":12,"c":18,"v":0.64},{"r":12,"c":19,"v":0.72},{"r":12,"c":20,"v":0.56},
      {"r":13,"c":1,"v":0.5},{"r":13,"c":2,"v":0.44},{"r":13,"c":3,"v":0.5},{"r":13,"c":4,"v":0.44},{"r":13,"c":5,"v":0.375},{"r":13,"c":6,"v":0.375},{"r":13,"c":7,"v":0.72},{"r":13,"c":8,"v":0.56},{"r":13,"c":9,"v":0.375},{"r":13,"c":10,"v":0.5},{"r":13,"c":11,"v":0.79},{"r":13,"c":12,"v":0.5},{"r":13,"c":13,"v":0.64},{"r":13,"c":14,"v":0.56},{"r":13,"c":15,"v":0.5},{"r":13,"c":16,"v":0.375},{"r":13,"c":17,"v":0.375},{"r":13,"c":18,"v":0.5},{"r":13,"c":19,"v":0.33},{"r":13,"c":20,"v":0.79}
    ]
  },
  "vconcat": [
    {
      "hconcat": [
        {
          "width": 259.4,
          "height": 366,
          "title": {"text": "worm behaviour"},
          "layer": [
            {
              "data": {"name": "worm"},
              "mark": {"type": "line", "color": "#777777", "strokeWidth": 4},
              "encoding": {
                "x": {"field": "x", "type": "quantitative", "scale": {"domain": [-798, 1342], "nice": false, "zero": false},
                      "axis": {"orient": "bottom", "values": [-500, 0, 500, 1000], "labelExpr": "'' + datum.value", "title": null, "tickSize": -3, "labelPadding": 11}},
                "y": {"field": "y", "type": "quantitative", "scale": {"domain": [-1235, 1798], "nice": false, "zero": false},
                      "axis": {"orient": "left", "values": [-1000, -500, 0, 500, 1000, 1500], "labelExpr": "'' + datum.value", "title": null, "tickSize": -3, "labelPadding": 9.6}},
                "order": {"field": "i", "type": "quantitative"}
              }
            },
            {
              "data": {"name": "head"},
              "mark": {"type": "point", "filled": true, "color": "#0000ff", "size": 40, "opacity": 1},
              "encoding": {
                "x": {"field": "x", "type": "quantitative", "scale": {"domain": [-798, 1342], "nice": false, "zero": false},
                      "axis": {"orient": "top", "values": [-500, 0, 500, 1000], "title": null, "tickSize": -3, "labels": false}},
                "y": {"field": "y", "type": "quantitative", "scale": {"domain": [-1235, 1798], "nice": false, "zero": false},
                      "axis": {"orient": "right", "values": [-1000, -500, 0, 500, 1000, 1500], "title": null, "tickSize": -3, "labels": false}}
              }
            }
          ],
          "resolve": {"axis": {"x": "independent", "y": "independent"}}
        },
        {
          "width": 69.3,
          "height": 69.3,
          "data": {"name": "neuron"},
          "title": {
            "text": ["The feature's is:", "184.0863"],
            "subtitle": ["The neuron's\u00a0 is:", "-0.49043"],
            "anchor": "start", "fontSize": 13, "fontWeight": "normal", "lineHeight": 16,
            "subtitleFont": "Liberation Sans", "subtitleFontSize": 13, "subtitleLineHeight": 16,
            "subtitleColor": "#000000", "subtitlePadding": 38, "offset": 48.5, "dx": 4
          },
          "mark": {"type": "rect", "strokeWidth": 0.6},
          "encoding": {
            "x": {"field": "c", "type": "ordinal", "scale": {"paddingInner": 0, "paddingOuter": 0},
                  "axis": {"title": ["Neuron index is:", "(1\u00a0\u00a0120)"], "labels": false, "ticks": false, "domain": false,
                           "titleFont": "Liberation Sans", "titleFontSize": 13, "titleFontWeight": "normal", "titleColor": "#000000",
                           "titleAnchor": "start", "titleAlign": "left", "titleLineHeight": 17, "titlePadding": 33, "titleX": 2}},
            "y": {"field": "r", "type": "ordinal", "scale": {"paddingInner": 0, "paddingOuter": 0}, "axis": null},
            "color": {"field": "v", "type": "quantitative", "legend": null,
                      "scale": {"type": "linear", "domain": [0, 0.125, 0.375, 0.625, 0.875, 1], "range": ["#000080", "#0000ff", "#00ffff", "#ffff00", "#ff0000", "#800000"], "interpolate": "rgb"}}
          }
        }
      ],
      "bounds": "flush",
      "center": true,
      "spacing": 35
    },
    {
      "concat": [
        {
          "width": 156, "height": 96.7, "data": {"name": "l1"}, "title": {"text": "1st layer", "dx": 3},
          "mark": {"type": "rect", "strokeWidth": 0.6},
          "encoding": {
            "x": {"field": "c", "type": "ordinal", "axis": null, "scale": {"paddingInner": 0, "paddingOuter": 0, "range": [6, 156]}},
            "y": {"field": "r", "type": "ordinal", "axis": null, "scale": {"paddingInner": 0, "paddingOuter": 0}},
            "color": {"field": "v", "type": "quantitative", "legend": null,
                      "scale": {"type": "linear", "domain": [0, 0.125, 0.375, 0.625, 0.875, 1], "range": ["#000080", "#0000ff", "#00ffff", "#ffff00", "#ff0000", "#800000"], "interpolate": "rgb"}},
            "stroke": {"field": "v", "type": "quantitative", "legend": null,
                      "scale": {"type": "linear", "domain": [0, 0.125, 0.375, 0.625, 0.875, 1], "range": ["#000080", "#0000ff", "#00ffff", "#ffff00", "#ff0000", "#800000"], "interpolate": "rgb"}}
          }
        },
        {
          "width": 150, "height": 96.7, "data": {"name": "l2"}, "title": {"text": "2nd layer"},
          "mark": {"type": "rect", "strokeWidth": 0.6},
          "encoding": {
            "x": {"field": "c", "type": "ordinal", "axis": null, "scale": {"paddingInner": 0, "paddingOuter": 0}},
            "y": {"field": "r", "type": "ordinal", "axis": null, "scale": {"paddingInner": 0, "paddingOuter": 0}},
            "color": {"field": "v", "type": "quantitative", "legend": null,
                      "scale": {"type": "linear", "domain": [0, 0.125, 0.375, 0.625, 0.875, 1], "range": ["#000080", "#0000ff", "#00ffff", "#ffff00", "#ff0000", "#800000"], "interpolate": "rgb"}},
            "stroke": {"field": "v", "type": "quantitative", "legend": null,
                      "scale": {"type": "linear", "domain": [0, 0.125, 0.375, 0.625, 0.875, 1], "range": ["#000080", "#0000ff", "#00ffff", "#ffff00", "#ff0000", "#800000"], "interpolate": "rgb"}}
          }
        },
        {
          "width": 156, "height": 96.7, "data": {"name": "l3"}, "title": {"text": "3rd layer", "dx": 3},
          "mark": {"type": "rect", "strokeWidth": 0.6},
          "encoding": {
            "x": {"field": "c", "type": "ordinal", "axis": null, "scale": {"paddingInner": 0, "paddingOuter": 0, "range": [6, 156]}},
            "y": {"field": "r", "type": "ordinal", "axis": null, "scale": {"paddingInner": 0, "paddingOuter": 0}},
            "color": {"field": "v", "type": "quantitative", "legend": null,
                      "scale": {"type": "linear", "domain": [0, 0.125, 0.375, 0.625, 0.875, 1], "range": ["#000080", "#0000ff", "#00ffff", "#ffff00", "#ff0000", "#800000"], "interpolate": "rgb"}},
            "stroke": {"field": "v", "type": "quantitative", "legend": null,
                      "scale": {"type": "linear", "domain": [0, 0.125, 0.375, 0.625, 0.875, 1], "range": ["#000080", "#0000ff", "#00ffff", "#ffff00", "#ff0000", "#800000"], "interpolate": "rgb"}}
          }
        },
        {
          "width": 150, "height": 96.7, "data": {"name": "l4"}, "title": {"text": "4th layer"},
          "mark": {"type": "rect", "strokeWidth": 0.6},
          "encoding": {
            "x": {"field": "c", "type": "ordinal", "axis": null, "scale": {"paddingInner": 0, "paddingOuter": 0}},
            "y": {"field": "r", "type": "ordinal", "axis": null, "scale": {"paddingInner": 0, "paddingOuter": 0}},
            "color": {"field": "v", "type": "quantitative", "legend": null,
                      "scale": {"type": "linear", "domain": [0, 0.125, 0.375, 0.625, 0.875, 1], "range": ["#000080", "#0000ff", "#00ffff", "#ffff00", "#ff0000", "#800000"], "interpolate": "rgb"}},
            "stroke": {"field": "v", "type": "quantitative", "legend": null,
                      "scale": {"type": "linear", "domain": [0, 0.125, 0.375, 0.625, 0.875, 1], "range": ["#000080", "#0000ff", "#00ffff", "#ffff00", "#ff0000", "#800000"], "interpolate": "rgb"}}
          }
        }
      ],
      "columns": 2,
      "align": "each",
      "spacing": {"column": 46, "row": 18.5}
    }
  ],
  "spacing": -2,
  "config": {
    "font": "Liberation Sans",
    "view": {"stroke": null},
    "title": {"font": "Liberation Sans", "fontSize": 13.2, "fontWeight": "bold", "color": "#000000", "offset": 4, "frame": "group"},
    "axis": {"labelFont": "Liberation Sans", "labelFontSize": 12, "labelColor": "#262626", "grid": false,
             "domainColor": "#6e6e6e", "tickColor": "#6e6e6e", "domainWidth": 1, "tickWidth": 1, "labelFlush": false}
  }
}
